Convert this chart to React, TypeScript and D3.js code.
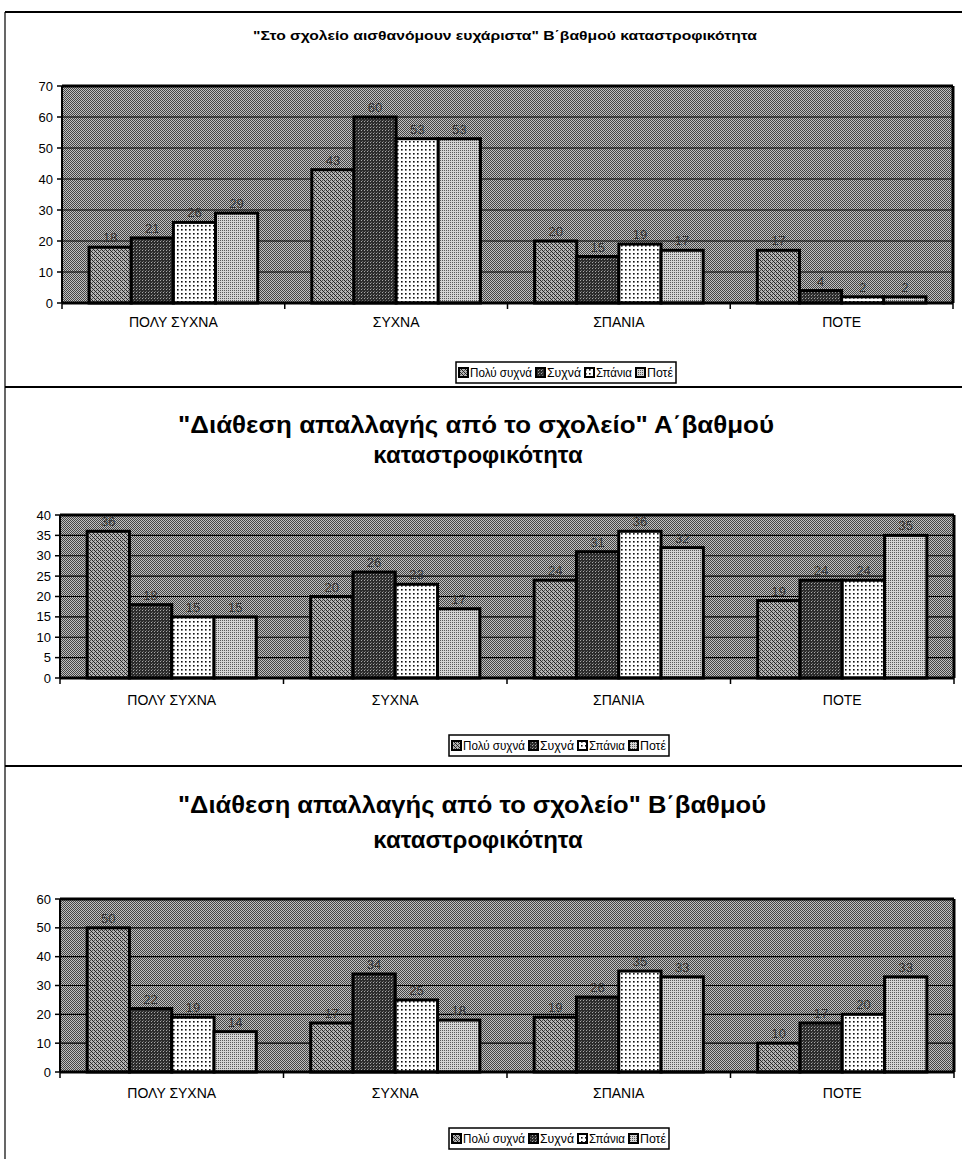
import React from "react";
import * as d3 from "d3";

// Categories on the x axis and the four answer series
const categories = ["ΠΟΛΥ ΣΥΧΝΑ", "ΣΥΧΝΑ", "ΣΠΑΝΙΑ", "ΠΟΤΕ"];
const seriesNames = ["Πολύ συχνά", "Συχνά", "Σπάνια", "Ποτέ"];

// Chart 1: "Στο σχολείο αισθανόμουν ευχάριστα" Β΄βαθμού
const c1PolySyxna = [18, 43, 20, 17];
const c1Syxna = [21, 60, 15, 4];
const c1Spania = [26, 53, 19, 2];
const c1Pote = [29, 53, 17, 2];
const c1Ticks = [0, 10, 20, 30, 40, 50, 60, 70];

// Chart 2: "Διάθεση απαλλαγής από το σχολείο" Α΄βαθμού
const c2PolySyxna = [36, 20, 24, 19];
const c2Syxna = [18, 26, 31, 24];
const c2Spania = [15, 23, 36, 24];
const c2Pote = [15, 17, 32, 35];
const c2Ticks = [0, 5, 10, 15, 20, 25, 30, 35, 40];

// Chart 3: "Διάθεση απαλλαγής από το σχολείο" Β΄βαθμού
const c3PolySyxna = [50, 17, 19, 10];
const c3Syxna = [22, 34, 26, 17];
const c3Spania = [19, 25, 35, 20];
const c3Pote = [14, 18, 33, 33];
const c3Ticks = [0, 10, 20, 30, 40, 50, 60];

const FONT = "'Liberation Sans', Arial, sans-serif";
const seriesFills = ["url(#pSeries0)", "url(#pSeries1)", "url(#pSeries2)", "url(#pSeries3)"];
// legend label widths (px) for each series entry
const legendTextWidths = [62, 34, 36, 26];

function Patterns() {
  return (
    <defs>
      {/* plot-area halftone */}
      <pattern id="pBg" width="2" height="2" patternUnits="userSpaceOnUse">
        <rect width="2" height="2" fill="#c0c0c0" />
        <rect x="0" y="0" width="1" height="1" fill="#444" />
        <rect x="1" y="1" width="1" height="1" fill="#444" />
      </pattern>
      {/* Πολύ συχνά: diagonal gray */}
      <pattern id="pSeries0" width="4" height="4" patternUnits="userSpaceOnUse">
        <rect width="4" height="4" fill="#b4b4b4" />
        <rect x="0" y="0" width="1" height="1" fill="#222" />
        <rect x="1" y="1" width="1" height="1" fill="#222" />
        <rect x="2" y="2" width="1" height="1" fill="#222" />
        <rect x="3" y="3" width="1" height="1" fill="#222" />
        <rect x="2" y="0" width="1" height="1" fill="#555" />
        <rect x="0" y="2" width="1" height="1" fill="#555" />
      </pattern>
      {/* Συχνά: dark */}
      <pattern id="pSeries1" width="3" height="3" patternUnits="userSpaceOnUse">
        <rect width="3" height="3" fill="#2c2c2c" />
        <rect x="1" y="1" width="1" height="1" fill="#a8a8a8" />
        <rect x="2" y="0" width="1" height="1" fill="#6a6a6a" />
      </pattern>
      {/* Σπάνια: white with dots */}
      <pattern id="pSeries2" width="4" height="4" patternUnits="userSpaceOnUse">
        <rect width="4" height="4" fill="#ffffff" />
        <rect x="1" y="1" width="1.6" height="1.6" fill="#111" />
      </pattern>
      {/* Ποτέ: light checker */}
      <pattern id="pSeries3" width="2" height="2" patternUnits="userSpaceOnUse">
        <rect width="2" height="2" fill="#d4d4d4" />
        <rect x="0" y="0" width="1" height="1" fill="#5a5a5a" />
      </pattern>
    </defs>
  );
}

type PanelProps = {
  series: number[][];
  ticks: number[];
  x0: number;
  x1: number;
  yTop: number;
  yBottom: number;
  catLabelY: number;
  legendX: number;
  legendY: number;
};

function Panel(p: PanelProps) {
  const maxV = p.ticks[p.ticks.length - 1];
  const y = d3.scaleLinear().domain([0, maxV]).range([p.yBottom, p.yTop]);
  const x = d3.scaleBand<string>().domain(categories).range([p.x0, p.x1]).padding(0);
  const bw = x.bandwidth();
  const gw = bw * 0.757;
  const inner = d3
    .scaleBand<string>()
    .domain(seriesNames)
    .range([(bw - gw) / 2, (bw + gw) / 2])
    .padding(0);

  let lx = p.legendX + 3;
  const legendItems = seriesNames.map((name, i) => {
    const item = { name, x: lx, fill: seriesFills[i], w: legendTextWidths[i] };
    lx += 9 + 2 + legendTextWidths[i] + 4;
    return item;
  });
  const legendW = lx - p.legendX - 1;

  return (
    <g>
      {/* plot area */}
      <rect x={p.x0} y={p.yTop} width={p.x1 - p.x0} height={p.yBottom - p.yTop} fill="url(#pBg)" />
      {p.ticks.map((t) => (
        <line key={"g" + t} x1={p.x0} x2={p.x1} y1={y(t)} y2={y(t)} stroke="#000" strokeWidth={1.2} />
      ))}
      {/* bars */}
      {categories.map((cat, ci) =>
        seriesNames.map((s, si) => {
          const v = p.series[si][ci];
          const bx = (x(cat) as number) + (inner(s) as number);
          return (
            <g key={cat + s}>
              <rect
                x={bx}
                y={y(v)}
                width={inner.bandwidth()}
                height={p.yBottom - y(v)}
                fill={seriesFills[si]}
                stroke="#000"
                strokeWidth={3}
              />
              <text
                x={bx + inner.bandwidth() / 2}
                y={y(v) - 5}
                textAnchor="middle"
                fontSize={13}
                fontFamily={FONT}
                fill="#333"
              >
                {v}
              </text>
            </g>
          );
        })
      )}
      {/* frame of plot area */}
      <line x1={p.x0} x2={p.x1} y1={p.yTop} y2={p.yTop} stroke="#000" strokeWidth={3} />
      <line x1={p.x1} x2={p.x1} y1={p.yTop} y2={p.yBottom} stroke="#000" strokeWidth={3} />
      <line x1={p.x0} x2={p.x0} y1={p.yTop} y2={p.yBottom} stroke="#000" strokeWidth={2} />
      <line x1={p.x0} x2={p.x1} y1={p.yBottom} y2={p.yBottom} stroke="#000" strokeWidth={3} />
      {/* y axis ticks and labels */}
      {p.ticks.map((t) => (
        <g key={"t" + t}>
          <line x1={p.x0 - 5} x2={p.x0} y1={y(t)} y2={y(t)} stroke="#000" strokeWidth={1.5} />
          <text
            x={p.x0 - 9}
            y={y(t) + 4.5}
            textAnchor="end"
            fontSize={13}
            fontFamily={FONT}
            fill="#000"
          >
            {t}
          </text>
        </g>
      ))}
      {/* category boundary ticks */}
      {categories.concat([""]).map((c, i) => {
        const tx = i < categories.length ? (x(c) as number) : p.x1;
        return <line key={"c" + i} x1={tx} x2={tx} y1={p.yBottom} y2={p.yBottom + 6} stroke="#000" strokeWidth={1.5} />;
      })}
      {categories.map((c) => (
        <text
          key={"l" + c}
          x={(x(c) as number) + bw / 2}
          y={p.catLabelY + 5}
          textAnchor="middle"
          fontSize={14}
          fontFamily={FONT}
          fill="#000"
        >
          {c}
        </text>
      ))}
      {/* legend */}
      <rect x={p.legendX} y={p.legendY} width={legendW} height={21} fill="#fff" stroke="#000" strokeWidth={1.5} />
      {legendItems.map((it) => (
        <g key={"lg" + it.name}>
          <rect x={it.x} y={p.legendY + 6} width={9} height={9} fill={it.fill} stroke="#000" strokeWidth={2} />
          <text
            x={it.x + 11}
            y={p.legendY + 15}
            fontSize={12}
            fontFamily={FONT}
            fill="#000"
            textLength={it.w}
            lengthAdjust="spacingAndGlyphs"
          >
            {it.name}
          </text>
        </g>
      ))}
    </g>
  );
}

export default function App() {
  return (
    <svg
      width={962}
      height={1159}
      style={{ position: "absolute", left: 0, top: 0, background: "#fff" }}
    >
      <Patterns />
      {/* page frames */}
      <line x1={5} x2={962} y1={12} y2={12} stroke="#000" strokeWidth={2} />
      <line x1={5} x2={5} y1={12} y2={387} stroke="#000" strokeWidth={1.2} />
      <line x1={5} x2={962} y1={387} y2={387} stroke="#000" strokeWidth={2} />
      <line x1={5} x2={5} y1={387} y2={766} stroke="#000" strokeWidth={1.2} />
      <line x1={5} x2={962} y1={766} y2={766} stroke="#000" strokeWidth={2} />
      <line x1={5} x2={5} y1={766} y2={1159} stroke="#000" strokeWidth={1.2} />

      {/* chart 1 */}
      <text x={505} y={40} textAnchor="middle" fontSize={12} fontWeight="bold" fontFamily={FONT} textLength={504} lengthAdjust="spacingAndGlyphs">
        "Στο σχολείο αισθανόμουν ευχάριστα" Β΄βαθμού καταστροφικότητα
      </text>
      <Panel
        series={[c1PolySyxna, c1Syxna, c1Spania, c1Pote]}
        ticks={c1Ticks}
        x0={62}
        x1={953}
        yTop={86}
        yBottom={303}
        catLabelY={322}
        legendX={456}
        legendY={362}
      />

      {/* chart 2 */}
      <text x={476} y={433} textAnchor="middle" fontSize={24} fontWeight="bold" fontFamily={FONT} textLength={596} lengthAdjust="spacingAndGlyphs">
        "Διάθεση απαλλαγής από το σχολείο" Α΄βαθμού
      </text>
      <text x={478} y={463} textAnchor="middle" fontSize={24} fontWeight="bold" fontFamily={FONT}>
        καταστροφικότητα
      </text>
      <Panel
        series={[c2PolySyxna, c2Syxna, c2Spania, c2Pote]}
        ticks={c2Ticks}
        x0={60}
        x1={954}
        yTop={515}
        yBottom={678}
        catLabelY={700}
        legendX={449}
        legendY={735}
      />

      {/* chart 3 */}
      <text x={472} y={813} textAnchor="middle" fontSize={24} fontWeight="bold" fontFamily={FONT} textLength={588} lengthAdjust="spacingAndGlyphs">
        "Διάθεση απαλλαγής από το σχολείο" Β΄βαθμού
      </text>
      <text x={478} y={848} textAnchor="middle" fontSize={24} fontWeight="bold" fontFamily={FONT}>
        καταστροφικότητα
      </text>
      <Panel
        series={[c3PolySyxna, c3Syxna, c3Spania, c3Pote]}
        ticks={c3Ticks}
        x0={60}
        x1={954}
        yTop={899}
        yBottom={1072}
        catLabelY={1093}
        legendX={449}
        legendY={1128}
      />
    </svg>
  );
}
